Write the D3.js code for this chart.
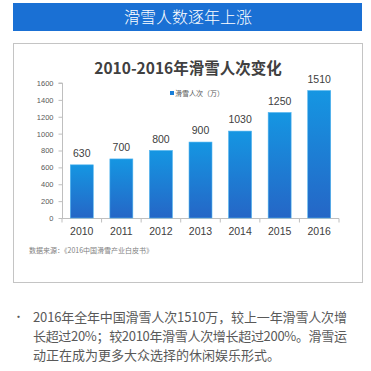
<!DOCTYPE html>
<html>
<head>
<meta charset="utf-8">
<script src="https://cdn.jsdelivr.net/npm/d3@7"></script>
<style>
  body { margin: 0; background: #fff; }
  text { font-family: "Noto Sans CJK SC", "Noto Sans", sans-serif; }
</style>
</head>
<body>
<svg id="chart"></svg>
<script>
// Datos
const years = ["2010", "2011", "2012", "2013", "2014", "2015", "2016"];
const skiVisits = [630, 700, 800, 900, 1030, 1250, 1510];
const yTicks = [0, 200, 400, 600, 800, 1000, 1200, 1400, 1600];
const headerText = "滑雪人数逐年上涨";
const chartTitle = "2010-2016年滑雪人次变化";
const legendText = "滑雪人次（万）";
const sourceText = "数据来源：《2016中国滑雪产业白皮书》";
const bulletLines = [
  "2016年全年中国滑雪人次1510万，较上一年滑雪人次增",
  "长超过20%；较2010年滑雪人次增长超过200%。滑雪运",
  "动正在成为更多大众选择的休闲娱乐形式。"
];

const W = 371, H = 371;
const svg = d3.select("#chart").attr("width", W).attr("height", H);

// Cabecera azul
svg.append("rect")
  .attr("x", 13).attr("y", 3).attr("width", 349).attr("height", 28)
  .attr("fill", "#1a70d4");
svg.append("text")
  .attr("x", 188).attr("y", 23)
  .attr("text-anchor", "middle")
  .attr("fill", "#fff")
  .attr("font-size", 16)
  .attr("font-weight", 300)
  .text(headerText);

// Caja del gráfico
svg.append("rect")
  .attr("x", 13.5).attr("y", 43.5).attr("width", 349).attr("height", 239)
  .attr("fill", "#fff")
  .attr("stroke", "#c4c4c4");

svg.append("text")
  .attr("x", 188).attr("y", 74)
  .attr("text-anchor", "middle")
  .attr("fill", "#404040")
  .attr("font-size", 15.5)
  .attr("font-weight", "bold")
  .text(chartTitle);

// Escalas
const x = d3.scaleBand().domain(years).range([62, 339]).paddingInner(0.42).paddingOuter(0.21);
const y = d3.scaleLinear().domain([0, 1600]).range([218, 83]);

// Gradiente
const defs = svg.append("defs");
const grad = defs.append("linearGradient")
  .attr("id", "barGrad").attr("x1", 0).attr("y1", 0).attr("x2", 0).attr("y2", 1);
grad.append("stop").attr("offset", "0%").attr("stop-color", "#1596e2");
grad.append("stop").attr("offset", "100%").attr("stop-color", "#2566c6");

// Eje Y
const yAxis = d3.axisLeft(y).tickValues(yTicks).tickSize(4).tickPadding(5).tickFormat(d3.format("d"));
const yG = svg.append("g").attr("transform", "translate(62.5,0)").call(yAxis);
yG.select(".domain").attr("stroke", "#bfbfbf").attr("d", `M-4,${y(1600)}H0V${y(0)}`);
yG.selectAll(".tick line").attr("stroke", "#bfbfbf");
yG.selectAll(".tick text").attr("fill", "#595959").attr("font-size", 7.5)
  .style("font-family", "'Liberation Sans', sans-serif");

// Eje X
const xG = svg.append("g").attr("transform", `translate(0,${y(0) + 0.5})`);
xG.append("line")
  .attr("x1", 62).attr("x2", 339)
  .attr("stroke", "#bfbfbf");
const tickX = i => i === years.length ? 339 : (x(years[i]) - x.step() * x.paddingInner() / 2);
xG.selectAll(".xtick").data(d3.range(years.length + 1)).join("line")
  .attr("class", "xtick")
  .attr("x1", tickX)
  .attr("x2", tickX)
  .attr("y1", 0).attr("y2", 4)
  .attr("stroke", "#bfbfbf");
xG.selectAll(".xlabel").data(years).join("text")
  .attr("class", "xlabel")
  .attr("x", d => x(d) + x.bandwidth() / 2)
  .attr("y", 16)
  .attr("text-anchor", "middle")
  .attr("fill", "#404040")
  .attr("font-size", 10.5)
  .style("font-family", "'Liberation Sans', sans-serif")
  .text(d => d);

// Barras
svg.selectAll(".bar").data(years).join("rect")
  .attr("class", "bar")
  .attr("x", d => x(d))
  .attr("y", (d, i) => y(skiVisits[i]))
  .attr("width", x.bandwidth())
  .attr("height", (d, i) => y(0) - y(skiVisits[i]))
  .attr("fill", "url(#barGrad)")
  .attr("stroke", "#4db3ee")
  .attr("stroke-width", 0.6);

// Etiquetas de valor
svg.selectAll(".val").data(years).join("text")
  .attr("class", "val")
  .attr("x", d => x(d) + x.bandwidth() / 2)
  .attr("y", (d, i) => y(skiVisits[i]) - 8)
  .attr("text-anchor", "middle")
  .attr("fill", "#404040")
  .attr("font-size", 10.5)
  .style("font-family", "'Liberation Sans', sans-serif")
  .text((d, i) => skiVisits[i]);

// Leyenda
svg.append("rect").attr("x", 170).attr("y", 91).attr("width", 4).attr("height", 4).attr("fill", "#1a7fd8");
svg.append("text")
  .attr("x", 175).attr("y", 96)
  .attr("fill", "#595959")
  .attr("font-size", 7)
  .text(legendText);

// Fuente
svg.append("text")
  .attr("x", 29).attr("y", 253)
  .attr("fill", "#7f7f7f")
  .attr("font-size", 7)
  .text(sourceText);

// Texto inferior
svg.append("text")
  .attr("x", 13).attr("y", 321)
  .attr("fill", "#595959")
  .attr("font-size", 11)
  .text("•");
svg.selectAll(".para").data(bulletLines).join("text")
  .attr("class", "para")
  .attr("x", 33)
  .attr("y", (d, i) => 322 + i * 19)
  .attr("fill", "#595959")
  .attr("font-size", 13)
  .attr("textLength", (d, i) => i < 2 ? 314 : null)
  .text(d => d);
</script>
</body>
</html>
